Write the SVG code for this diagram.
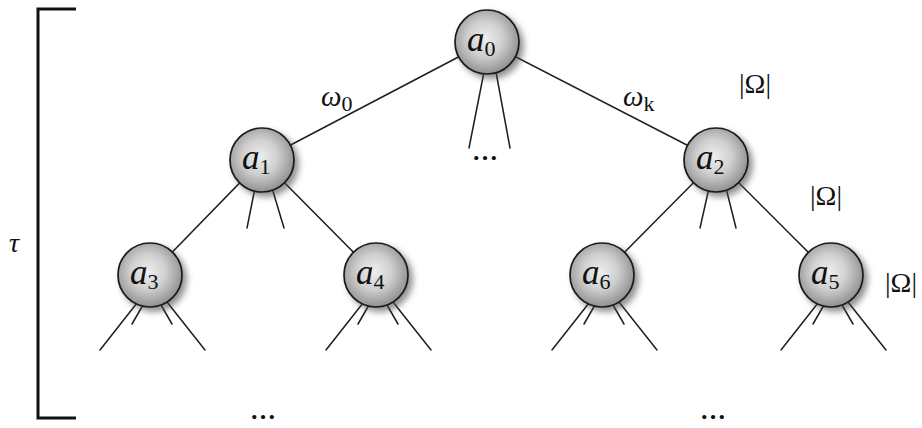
<svg xmlns="http://www.w3.org/2000/svg" width="922" height="428" viewBox="0 0 922 428">
  <style>
    .edge { stroke: #1e1e1e; stroke-width: 1.5; fill: none; stroke-linecap: round; }
    .ball { fill: url(#ballFill); stroke: #1a1a1a; stroke-width: 1.7; }
    .shadow { fill: #4a4a4a; opacity: 0.6; filter: url(#soft); }
    .lbl { font-family: "Liberation Serif", "DejaVu Serif", serif; font-style: italic; fill: #111; }
    .node-lbl { font-size: 35px; }
    .sub { font-size: 22px; font-style: normal; }
    .math { font-family: "Liberation Serif", "DejaVu Serif", serif; fill: #111; font-size: 28px; }
    .dots { font-family: "Liberation Serif", serif; fill: #111; font-size: 26px; font-weight: bold; }
  </style>
  <defs>
    <radialGradient id="ballFill" cx="0.47" cy="0.45" r="0.6">
      <stop offset="0" stop-color="#eeeeee"/>
      <stop offset="0.45" stop-color="#d0d0d0"/>
      <stop offset="0.85" stop-color="#9a9a9a"/>
      <stop offset="1" stop-color="#888888"/>
    </radialGradient>
    <filter id="soft" x="-50%" y="-50%" width="200%" height="200%">
      <feGaussianBlur stdDeviation="3"/>
    </filter>
  </defs>

  <rect width="922" height="428" fill="#ffffff"/>

  <!-- depth bracket -->
  <g id="depth">
    <path d="M76,9 H38 V418 H76" stroke="#111" stroke-width="3" fill="none"/>
    <text class="lbl" x="9" y="252" font-size="28">τ</text>
  </g>

  <!-- connectors -->
  <g id="connectors">
    <line class="edge" x1="487" y1="42" x2="262" y2="160"/>
    <line class="edge" x1="487" y1="42" x2="716" y2="160"/>
    <line class="edge" x1="484" y1="72" x2="469" y2="148"/>
    <line class="edge" x1="496" y1="72" x2="510" y2="148"/>

    <line class="edge" x1="262" y1="160" x2="150" y2="275"/>
    <line class="edge" x1="262" y1="160" x2="376" y2="275"/>
    <line class="edge" x1="255" y1="188" x2="247" y2="228"/>
    <line class="edge" x1="272" y1="188" x2="284" y2="228"/>

    <line class="edge" x1="716" y1="160" x2="602" y2="275"/>
    <line class="edge" x1="716" y1="160" x2="831" y2="275"/>
    <line class="edge" x1="709" y1="188" x2="700" y2="228"/>
    <line class="edge" x1="726" y1="188" x2="736" y2="228"/>

    <!-- leaf fans -->
    <g transform="translate(150,275)">
      <line class="edge" x1="-13" y1="28" x2="-50" y2="75"/>
      <line class="edge" x1="-7" y1="30" x2="-18" y2="49"/>
      <line class="edge" x1="11" y1="30" x2="22" y2="49"/>
      <line class="edge" x1="17" y1="27" x2="55" y2="75"/>
    </g>
    <g transform="translate(376,275)">
      <line class="edge" x1="-13" y1="28" x2="-50" y2="75"/>
      <line class="edge" x1="-7" y1="30" x2="-18" y2="49"/>
      <line class="edge" x1="11" y1="30" x2="22" y2="49"/>
      <line class="edge" x1="17" y1="27" x2="55" y2="75"/>
    </g>
    <g transform="translate(602,275)">
      <line class="edge" x1="-13" y1="28" x2="-50" y2="75"/>
      <line class="edge" x1="-7" y1="30" x2="-18" y2="49"/>
      <line class="edge" x1="11" y1="30" x2="22" y2="49"/>
      <line class="edge" x1="17" y1="27" x2="55" y2="75"/>
    </g>
    <g transform="translate(831,275)">
      <line class="edge" x1="-13" y1="28" x2="-50" y2="75"/>
      <line class="edge" x1="-7" y1="30" x2="-18" y2="49"/>
      <line class="edge" x1="11" y1="30" x2="22" y2="49"/>
      <line class="edge" x1="17" y1="27" x2="55" y2="75"/>
    </g>
  </g>

  <!-- edge and branching labels -->
  <g id="labels">
    <text class="lbl" x="321" y="106" font-size="29">ω<tspan class="sub" dy="5">0</tspan></text>
    <text class="lbl" x="623" y="106" font-size="29">ω<tspan class="sub" dy="5" font-style="italic">k</tspan></text>
    <text class="math" x="739" y="93">|Ω|</text>
    <text class="math" x="810" y="205">|Ω|</text>
    <text class="math" x="885" y="292">|Ω|</text>
    <text class="dots" x="472" y="160">…</text>
    <text class="dots" x="250" y="419">…</text>
    <text class="dots" x="700" y="419">…</text>
  </g>

  <!-- nodes -->
  <g id="a0" transform="translate(487,42)">
    <circle class="shadow" cx="4" cy="4" r="33"/>
    <circle class="ball" r="32"/>
    <text class="lbl node-lbl" x="-20" y="9">a<tspan class="sub" dy="5">0</tspan></text>
  </g>
  <g id="a1" transform="translate(262,160)">
    <circle class="shadow" cx="4" cy="4" r="33"/>
    <circle class="ball" r="32"/>
    <text class="lbl node-lbl" x="-20" y="9">a<tspan class="sub" dy="5">1</tspan></text>
  </g>
  <g id="a2" transform="translate(716,160)">
    <circle class="shadow" cx="4" cy="4" r="33"/>
    <circle class="ball" r="32"/>
    <text class="lbl node-lbl" x="-20" y="9">a<tspan class="sub" dy="5">2</tspan></text>
  </g>
  <g id="a3" transform="translate(150,275)">
    <circle class="shadow" cx="4" cy="4" r="33"/>
    <circle class="ball" r="32"/>
    <text class="lbl node-lbl" x="-20" y="9">a<tspan class="sub" dy="5">3</tspan></text>
  </g>
  <g id="a4" transform="translate(376,275)">
    <circle class="shadow" cx="4" cy="4" r="33"/>
    <circle class="ball" r="32"/>
    <text class="lbl node-lbl" x="-20" y="9">a<tspan class="sub" dy="5">4</tspan></text>
  </g>
  <g id="a6" transform="translate(602,275)">
    <circle class="shadow" cx="4" cy="4" r="33"/>
    <circle class="ball" r="32"/>
    <text class="lbl node-lbl" x="-20" y="9">a<tspan class="sub" dy="5">6</tspan></text>
  </g>
  <g id="a5" transform="translate(831,275)">
    <circle class="shadow" cx="4" cy="4" r="33"/>
    <circle class="ball" r="32"/>
    <text class="lbl node-lbl" x="-20" y="9">a<tspan class="sub" dy="5">5</tspan></text>
  </g>
</svg>
